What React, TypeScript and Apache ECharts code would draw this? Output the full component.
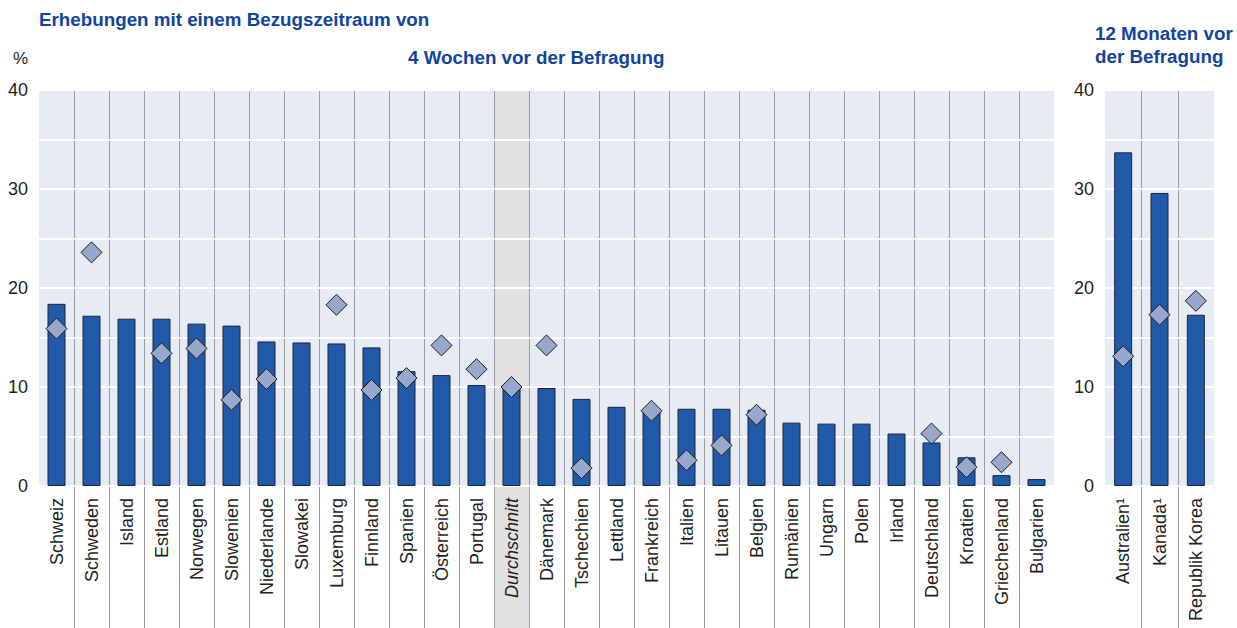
import React, { useEffect, useRef } from 'react';
import * as echarts from 'echarts';

// ---- data ----
const categories = [
  'Schweiz', 'Schweden', 'Island', 'Estland', 'Norwegen', 'Slowenien', 'Niederlande',
  'Slowakei', 'Luxemburg', 'Finnland', 'Spanien', 'Österreich', 'Portugal', 'Durchschnitt',
  'Dänemark', 'Tschechien', 'Lettland', 'Frankreich', 'Italien', 'Litauen', 'Belgien',
  'Rumänien', 'Ungarn', 'Polen', 'Irland', 'Deutschland', 'Kroatien', 'Griechenland', 'Bulgarien',
];
const barValues = [
  18.4, 17.2, 16.9, 16.9, 16.4, 16.2, 14.6, 14.5, 14.4, 14.0, 11.6, 11.2, 10.2, 10.0,
  9.9, 8.8, 8.0, 7.6, 7.8, 7.8, 7.7, 6.4, 6.3, 6.3, 5.3, 4.4, 2.9, 1.1, 0.7,
];
const diamondValues = [
  15.9, 23.6, null, 13.4, 13.9, 8.7, 10.8, null, 18.3, 9.7, 10.9, 14.2, 11.8, 10.0,
  14.2, 1.8, null, 7.6, 2.6, 4.1, 7.2, null, null, null, null, 5.3, 1.9, 2.4, null,
];
const categories2 = ['Australien¹', 'Kanada¹', 'Republik Korea'];
const barValues2 = [33.7, 29.6, 17.3];
const diamondValues2 = [13.1, 17.3, 18.7];
const yTicks = [0, 10, 20, 30, 40];
const highlightCategory = 'Durchschnitt';

const FONT = "'Liberation Sans', Arial, sans-serif";
const TITLE_BLUE = '#1144A0';
const TEXT = '#231F20';
const BAR = '#225AAA';
const DIAMOND = '#98A7CC';
const PLOT_BG = '#E7EBF3';
const AVG_BG = '#E1E1E1';
const SEP = '#9C9C9C';

function bgSeries(axisIndex: number, cats: string[]) {
  return {
    type: 'custom',
    xAxisIndex: axisIndex,
    yAxisIndex: axisIndex,
    z: -1,
    silent: true,
    clip: false,
    data: cats.map((_, i) => [i]),
    renderItem: (params: any, api: any) => {
      const idx = api.value(0);
      const base = api.coord([idx, 0]);
      const top = api.coord([idx, 40]);
      const w = api.size([1, 0])[0];
      const left = base[0] - w / 2;
      const bottom = api.getHeight();
      const isAvg = cats[idx] === highlightCategory;
      const children: any[] = [
        {
          type: 'rect',
          shape: { x: left, y: top[1], width: w, height: (isAvg ? bottom : base[1]) - top[1] },
          style: { fill: isAvg ? AVG_BG : PLOT_BG },
        },
      ];
      if (idx > 0) {
        const lx = Math.round(left) + 0.5;
        children.push({
          type: 'line',
          shape: { x1: lx, y1: top[1], x2: lx, y2: bottom },
          style: { stroke: SEP, lineWidth: 1 },
        });
      }
      return { type: 'group', children };
    },
  };
}

function xAxisCfg(gridIndex: number, cats: string[]) {
  return {
    type: 'category',
    gridIndex,
    data: cats,
    axisLine: { show: false },
    axisTick: { show: false },
    splitLine: { show: false },
    axisLabel: {
      interval: 0,
      rotate: 90,
      margin: 12,
      fontSize: 18,
      fontFamily: FONT,
      color: TEXT,
      formatter: (v: string) => (v === highlightCategory ? `{it|${v}}` : v),
      rich: { it: { fontStyle: 'italic', fontSize: 18, fontFamily: FONT, color: TEXT } },
    },
  };
}

function yAxisCfg(gridIndex: number) {
  return {
    type: 'value',
    gridIndex,
    min: 0,
    max: 40,
    interval: 5,
    axisLine: { show: false },
    axisTick: { show: false },
    axisLabel: {
      margin: 11,
      fontSize: 18,
      fontFamily: FONT,
      color: TEXT,
      formatter: (v: number) => (yTicks.includes(v) ? String(v) : ''),
    },
    splitLine: { show: true, lineStyle: { color: '#FFFFFF', width: 2 } },
  };
}

function barSeries(axisIndex: number, values: number[]) {
  return {
    type: 'bar',
    xAxisIndex: axisIndex,
    yAxisIndex: axisIndex,
    data: values,
    barWidth: 18,
    z: 2,
    itemStyle: { color: BAR, borderColor: '#1A2440', borderWidth: 1 },
  };
}

function diamondSeries(axisIndex: number, values: (number | null)[]) {
  return {
    type: 'scatter',
    xAxisIndex: axisIndex,
    yAxisIndex: axisIndex,
    data: values.map((v) => (v === null ? '-' : v)),
    symbol: 'diamond',
    symbolSize: 21,
    z: 3,
    itemStyle: { color: DIAMOND, borderColor: '#1A1A1A', borderWidth: 1, opacity: 1 },
  };
}

export default function App() {
  const ref = useRef<HTMLDivElement>(null);
  useEffect(() => {
    if (!ref.current) return;
    const chart = echarts.init(ref.current, undefined, { renderer: 'svg' });
    chart.setOption({
      animation: false,
      backgroundColor: '#FFFFFF',
      textStyle: { fontFamily: FONT },
      grid: [
        { left: 39, top: 90, width: 1015, height: 396 },
        { left: 1105, top: 90, width: 109, height: 396 },
      ],
      xAxis: [xAxisCfg(0, categories), xAxisCfg(1, categories2)],
      yAxis: [yAxisCfg(0), yAxisCfg(1)],
      series: [
        bgSeries(0, categories),
        bgSeries(1, categories2),
        barSeries(0, barValues),
        barSeries(1, barValues2),
        diamondSeries(0, diamondValues),
        diamondSeries(1, diamondValues2),
      ],
      graphic: [
        {
          type: 'text',
          x: 39,
          y: 19,
          style: {
            text: 'Erhebungen mit einem Bezugszeitraum von',
            fill: TITLE_BLUE,
            font: `bold 18.8px ${FONT}`,
            textVerticalAlign: 'middle',
          },
        },
        {
          type: 'text',
          x: 408,
          y: 57,
          style: {
            text: '4 Wochen vor der Befragung',
            fill: TITLE_BLUE,
            font: `bold 18.8px ${FONT}`,
            textVerticalAlign: 'middle',
          },
        },
        {
          type: 'text',
          x: 1095,
          y: 22,
          style: {
            text: '12 Monaten vor\nder Befragung',
            fill: TITLE_BLUE,
            font: `bold 18.8px ${FONT}`,
            lineHeight: 23,
            textVerticalAlign: 'top',
          },
        },
        {
          type: 'text',
          x: 13,
          y: 58,
          style: {
            text: '%',
            fill: TEXT,
            font: `17px ${FONT}`,
            textVerticalAlign: 'middle',
          },
        },
      ],
    });
    return () => chart.dispose();
  }, []);
  return (
    <div
      ref={ref}
      style={{ position: 'absolute', left: 0, top: 0, width: 1237, height: 628 }}
    />
  );
}
